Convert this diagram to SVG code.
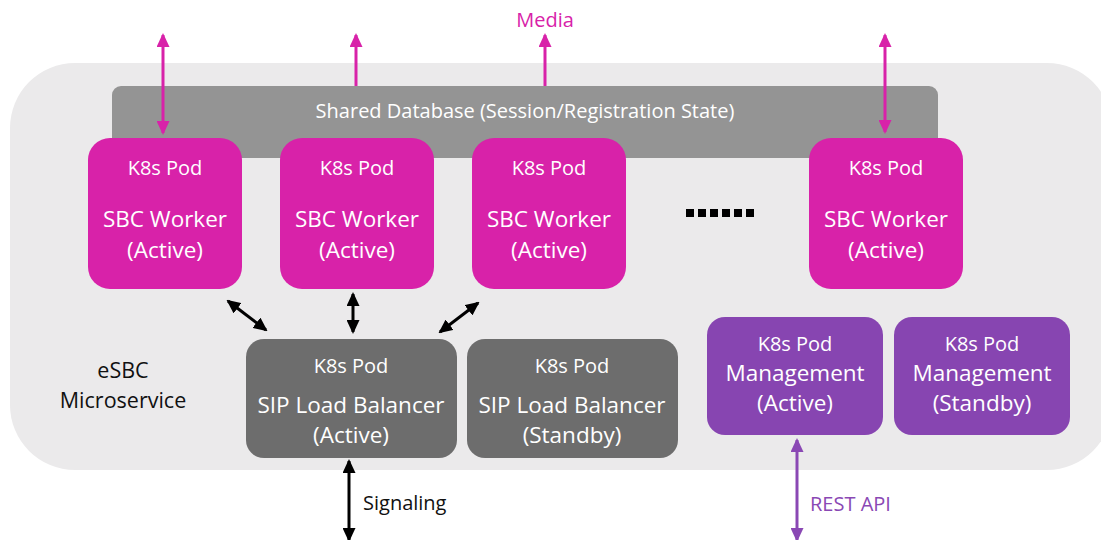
<svg xmlns="http://www.w3.org/2000/svg" width="1101" height="540" viewBox="0 0 1101 540">
  <style>
    text { font-family: "Open Sans", "Noto Sans", "DejaVu Sans", sans-serif; text-anchor: middle; }
    .pod { fill: #d822a9; }
    .lb { fill: #6d6d6d; }
    .mgmt { fill: #8745b1; }
    .wt { fill: #ffffff; }
    .small { font-size: 20px; }
    .big { font-size: 22.5px; }
    .mid { font-size: 22.5px; }
    .media { stroke: #d822a9; stroke-width: 3; fill: none; }
    .sig { stroke: #000000; stroke-width: 3; fill: none; }
    .rest { stroke: #8a48b4; stroke-width: 3; fill: none; }
  </style>
  <defs>
    <marker id="hm" viewBox="0 0 14 13" refX="12" refY="6.5" markerWidth="14" markerHeight="13" markerUnits="userSpaceOnUse" orient="auto-start-reverse">
      <path d="M0,0 L14,6.5 L0,13 z" fill="#d822a9"/>
    </marker>
    <marker id="hk" viewBox="0 0 14 13" refX="12" refY="6.5" markerWidth="14" markerHeight="13" markerUnits="userSpaceOnUse" orient="auto-start-reverse">
      <path d="M0,0 L14,6.5 L0,13 z" fill="#000000"/>
    </marker>
    <marker id="hp" viewBox="0 0 14 13" refX="12" refY="6.5" markerWidth="14" markerHeight="13" markerUnits="userSpaceOnUse" orient="auto-start-reverse">
      <path d="M0,0 L14,6.5 L0,13 z" fill="#8a48b4"/>
    </marker>
  </defs>

  <!-- microservice boundary -->
  <g id="esbc">
    <rect x="10" y="63" width="1102" height="407" rx="65" fill="#ebeaeb"/>
    <text x="123" y="378" font-size="21.5" fill="#111">eSBC</text>
    <text x="123" y="408" font-size="21.5" fill="#111">Microservice</text>
  </g>

  <!-- shared state store -->
  <g id="shared-db">
    <rect x="112" y="86" width="826" height="72" rx="9" fill="#949494"/>
    <text x="525" y="118" font-size="20" class="wt">Shared Database (Session/Registration State)</text>
  </g>

  <!-- SBC worker pods -->
  <g id="worker-1">
    <rect class="pod" x="88" y="138" width="154" height="151" rx="22"/>
    <text class="wt small" x="165" y="175">K8s Pod</text>
    <text class="wt big" x="165" y="227">SBC Worker</text>
    <text class="wt big" x="165" y="258">(Active)</text>
  </g>
  <g id="worker-2">
    <rect class="pod" x="280" y="138" width="154" height="151" rx="22"/>
    <text class="wt small" x="357" y="175">K8s Pod</text>
    <text class="wt big" x="357" y="227">SBC Worker</text>
    <text class="wt big" x="357" y="258">(Active)</text>
  </g>
  <g id="worker-3">
    <rect class="pod" x="472" y="138" width="154" height="151" rx="22"/>
    <text class="wt small" x="549" y="175">K8s Pod</text>
    <text class="wt big" x="549" y="227">SBC Worker</text>
    <text class="wt big" x="549" y="258">(Active)</text>
  </g>
  <g id="ellipsis">
    <rect x="686" y="209" width="8" height="8"/>
    <rect x="698" y="209" width="8" height="8"/>
    <rect x="710" y="209" width="8" height="8"/>
    <rect x="722" y="209" width="8" height="8"/>
    <rect x="734" y="209" width="8" height="8"/>
    <rect x="746" y="209" width="8" height="8"/>
  </g>
  <g id="worker-n">
    <rect class="pod" x="809" y="138" width="154" height="151" rx="22"/>
    <text class="wt small" x="886" y="175">K8s Pod</text>
    <text class="wt big" x="886" y="227">SBC Worker</text>
    <text class="wt big" x="886" y="258">(Active)</text>
  </g>

  <!-- SIP load balancers -->
  <g id="lb-active">
    <rect class="lb" x="246" y="339" width="211" height="119" rx="18"/>
    <text class="wt small" x="351" y="373">K8s Pod</text>
    <text class="wt mid" x="351" y="413">SIP Load Balancer</text>
    <text class="wt mid" x="351" y="443">(Active)</text>
  </g>
  <g id="lb-standby">
    <rect class="lb" x="467" y="339" width="211" height="119" rx="18"/>
    <text class="wt small" x="572" y="373">K8s Pod</text>
    <text class="wt mid" x="572" y="413">SIP Load Balancer</text>
    <text class="wt mid" x="572" y="443">(Standby)</text>
  </g>

  <!-- management pods -->
  <g id="mgmt-active">
    <rect class="mgmt" x="707" y="317" width="176" height="118" rx="18"/>
    <text class="wt small" x="795" y="351">K8s Pod</text>
    <text class="wt mid" x="795" y="381">Management</text>
    <text class="wt mid" x="795" y="411">(Active)</text>
  </g>
  <g id="mgmt-standby">
    <rect class="mgmt" x="894" y="317" width="176" height="118" rx="18"/>
    <text class="wt small" x="982" y="351">K8s Pod</text>
    <text class="wt mid" x="982" y="381">Management</text>
    <text class="wt mid" x="982" y="411">(Standby)</text>
  </g>

  <!-- connectors -->
  <g id="connectors">
    <line class="media" x1="163" y1="133" x2="163" y2="35" marker-start="url(#hm)" marker-end="url(#hm)"/>
    <line class="media" x1="356" y1="86" x2="356" y2="35" marker-end="url(#hm)"/>
    <line class="media" x1="545" y1="86" x2="545" y2="35" marker-end="url(#hm)"/>
    <line class="media" x1="885" y1="132" x2="885" y2="35" marker-start="url(#hm)" marker-end="url(#hm)"/>

    <line class="sig" x1="228" y1="301" x2="266" y2="330" marker-start="url(#hk)" marker-end="url(#hk)"/>
    <line class="sig" x1="353" y1="294" x2="353" y2="332" marker-start="url(#hk)" marker-end="url(#hk)"/>
    <line class="sig" x1="478" y1="303" x2="440" y2="332" marker-start="url(#hk)" marker-end="url(#hk)"/>

    <line class="sig" x1="349" y1="461" x2="349" y2="540" marker-start="url(#hk)" marker-end="url(#hk)"/>
    <line class="rest" x1="797" y1="440" x2="797" y2="540" marker-start="url(#hp)" marker-end="url(#hp)"/>
  </g>

  <!-- external labels -->
  <text x="545" y="27" font-size="20" fill="#d822a9">Media</text>
  <text x="363" y="510" font-size="20" fill="#111" style="text-anchor:start">Signaling</text>
  <text x="810" y="511" font-size="20" fill="#8a48b4" style="text-anchor:start">REST API</text>
</svg>
